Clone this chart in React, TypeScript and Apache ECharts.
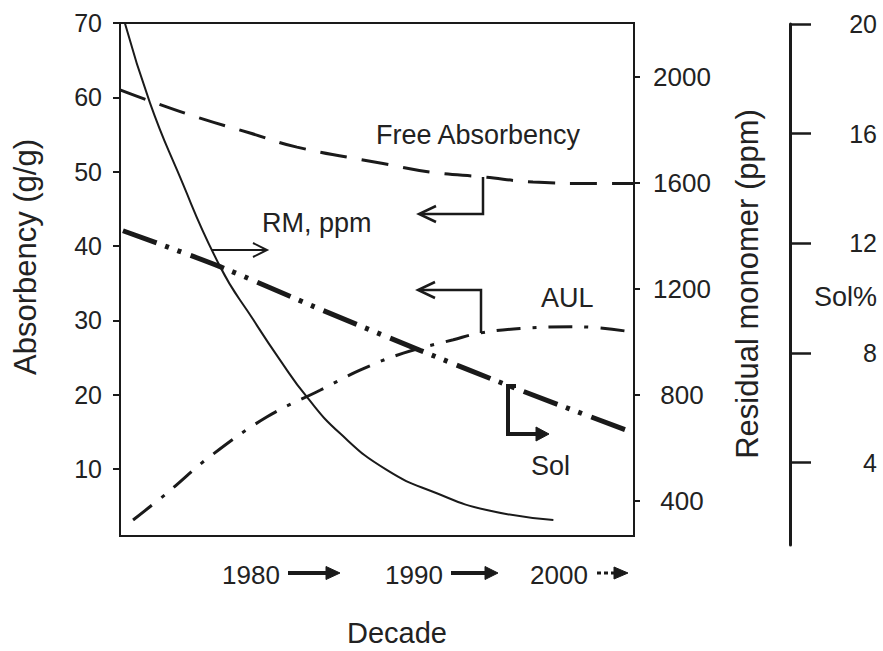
import React, { useEffect, useRef } from "react";
import * as echarts from "echarts";

// ---- data ----
const rmYears = [1970.34, 1972.04, 1973.88, 1976.81, 1979.08, 1980.89, 1982.71, 1984.98, 1988.16, 1991.57, 1994.97, 1999.51];
const rmPpm = [2200, 1901, 1648, 1284, 1083, 932, 793, 655, 517, 429, 366, 328];

const freeYears = [1970.0, 1971.91, 1975.45, 1978.85, 1982.05, 1987.91, 1991.31, 1994.72, 1998.12, 2002.68, 2005.0];
const freeAbs = [61.0, 59.6, 57.2, 55.2, 53.3, 51.1, 49.9, 49.3, 48.6, 48.4, 48.4];

const aulYears = [1970.89, 1973.18, 1976.13, 1979.99, 1983.62, 1986.34, 1989.29, 1992.7, 1994.51, 1997.24, 2001.1, 2005.0];
const aulValues = [3.15, 6.75, 11.7, 17.0, 20.6, 23.3, 25.6, 27.4, 28.3, 28.9, 29.15, 28.4];

const solYears = [1970.2, 1976.81, 1983.62, 1990.43, 1997.24, 2004.93];
const solValues = [12.46, 11.15, 9.6, 8.1, 6.65, 5.1];

const absTicks = [10, 20, 30, 40, 50, 60, 70];
const rmTicks = [400, 800, 1200, 1600, 2000];
const solTicks = [4, 8, 12, 16, 20];
const decadeLabels = ["1980", "1990", "2000"];

const FONT = "'Liberation Sans', Arial, Helvetica, sans-serif";
const INK = "#1a1a1a";
const TXT = "#222";

const zip = (xs: number[], ys: number[]) => xs.map((x, i) => [x, ys[i]]);

function txt(text: string, x: number, y: number, size: number, align: string, rotation = 0) {
  return {
    type: "text",
    x,
    y,
    rotation,
    silent: true,
    style: {
      text,
      fill: TXT,
      font: `${size}px ${FONT}`,
      fontSize: size,
      fontFamily: FONT,
      align,
      verticalAlign: "middle",
      textAlign: align,
      textVerticalAlign: "middle",
    },
  };
}

function pline(points: number[][], width: number) {
  return {
    type: "polyline",
    silent: true,
    shape: { points },
    style: { stroke: INK, lineWidth: width, fill: "none", lineJoin: "miter" },
  };
}

function tri(points: number[][]) {
  return {
    type: "polygon",
    silent: true,
    shape: { points },
    style: { fill: INK, stroke: INK, lineWidth: 1 },
  };
}

export default function App() {
  const ref = useRef<HTMLDivElement>(null);

  useEffect(() => {
    if (!ref.current) return;
    const chart = echarts.init(ref.current, undefined, { renderer: "svg" });

    const decadeX = [222, 385, 530];

    const graphic: any[] = [
      txt("Absorbency (g/g)", 25, 257, 31, "center", Math.PI / 2),
      txt("Residual monomer (ppm)", 747, 284, 31, "center", Math.PI / 2),
      txt("Sol%", 877, 297, 27, "right"),
      txt("Decade", 397, 633, 29, "center"),
      txt("Free Absorbency", 376, 135, 27, "left"),
      txt("RM, ppm", 262, 223, 27, "left"),
      txt("AUL", 541, 298, 27, "left"),
      txt("Sol", 531, 466, 27, "left"),
      ...decadeLabels.map((d, i) => txt(d, decadeX[i], 575, 26, "left")),
      // decade arrows
      pline([[288, 573], [329, 573]], 4),
      tri([[326, 566.5], [340, 573], [326, 579.5]]),
      pline([[451, 573], [487, 573]], 4),
      tri([[485, 566.5], [498, 573], [485, 579.5]]),
      {
        type: "line",
        silent: true,
        shape: { x1: 597, y1: 573, x2: 615, y2: 573 },
        style: { stroke: INK, lineWidth: 3, lineDash: [4, 3] },
      },
      tri([[614, 567], [628, 573], [614, 579]]),
      // Free absorbency bracket arrow
      pline([[483, 177], [483, 214], [421, 214]], 2.5),
      pline([[436, 206], [419, 214], [436, 222]], 2.5),
      // RM arrow
      pline([[211, 250], [265, 250]], 2),
      pline([[253, 243], [267, 250], [253, 257]], 2),
      // AUL bracket arrow
      pline([[481, 333], [481, 290], [420, 290]], 2.5),
      pline([[435, 282], [418, 290], [435, 298]], 2.5),
      // Sol bracket arrow
      pline([[516, 386], [508, 386], [508, 434], [538, 434]], 4),
      tri([[536, 427], [549, 434], [536, 441]]),
    ];

    const labelStyle = { color: TXT, fontSize: 25, fontFamily: FONT };
    const plain = (v: number) => String(v);

    chart.setOption({
      animation: false,
      backgroundColor: "#ffffff",
      grid: [
        { left: 120, top: 23, width: 514, height: 513, show: true, borderColor: INK, borderWidth: 2, backgroundColor: "transparent" },
        { left: 120, top: 24, width: 514, height: 521, show: false },
      ],
      xAxis: [
        {
          type: "value", gridIndex: 0, min: 1970, max: 2005,
          axisLine: { show: false }, axisTick: { show: false }, axisLabel: { show: false }, splitLine: { show: false },
        },
        {
          type: "value", gridIndex: 1, min: 1970, max: 2005, show: false,
        },
      ],
      yAxis: [
        {
          type: "value", gridIndex: 0, position: "left", min: 1, max: 70,
          axisLine: { show: true, lineStyle: { color: INK, width: 2 } },
          axisTick: { show: true, length: 7, lineStyle: { color: INK, width: 2 }, customValues: absTicks },
          axisLabel: { ...labelStyle, margin: 18, customValues: absTicks, formatter: plain },
          splitLine: { show: false },
        },
        {
          type: "value", gridIndex: 0, position: "right", min: 268, max: 2202,
          axisLine: { show: true, lineStyle: { color: INK, width: 2 } },
          axisTick: { show: true, length: 6, lineStyle: { color: INK, width: 2 }, customValues: rmTicks },
          axisLabel: { ...labelStyle, fontSize: 26, margin: 48, align: "center", customValues: rmTicks, formatter: plain },
          splitLine: { show: false },
        },
        {
          type: "value", gridIndex: 1, position: "right", offset: 156, min: 1, max: 20,
          axisLine: { show: true, lineStyle: { color: INK, width: 3 } },
          axisTick: { show: true, length: 21, lineStyle: { color: INK, width: 2.5 }, customValues: solTicks },
          axisLabel: { ...labelStyle, margin: 87, align: "right", customValues: solTicks, formatter: plain },
          splitLine: { show: false },
        },
      ],
      series: [
        {
          name: "RM, ppm", type: "line", xAxisIndex: 0, yAxisIndex: 1,
          data: zip(rmYears, rmPpm), smooth: 0.5, showSymbol: false, symbol: "none",
          lineStyle: { color: INK, width: 2, type: "solid" },
        },
        {
          name: "Free Absorbency", type: "line", xAxisIndex: 0, yAxisIndex: 0,
          data: zip(freeYears, freeAbs), smooth: 0.4, showSymbol: false, symbol: "none",
          lineStyle: { color: INK, width: 3, type: [27, 15] },
        },
        {
          name: "AUL", type: "line", xAxisIndex: 0, yAxisIndex: 0,
          data: zip(aulYears, aulValues), smooth: 0.4, showSymbol: false, symbol: "none",
          lineStyle: { color: INK, width: 3, type: [24, 12, 4, 12] },
        },
        {
          name: "Sol", type: "line", xAxisIndex: 1, yAxisIndex: 2,
          data: zip(solYears, solValues), smooth: 0.3, showSymbol: false, symbol: "none",
          lineStyle: { color: INK, width: 5, type: [36, 9, 4, 9, 4, 10] },
        },
      ],
      graphic,
    });

    return () => chart.dispose();
  }, []);

  return (
    <div
      ref={ref}
      style={{ position: "fixed", left: 0, top: 0, width: 883, height: 651, background: "#fff" }}
    />
  );
}
